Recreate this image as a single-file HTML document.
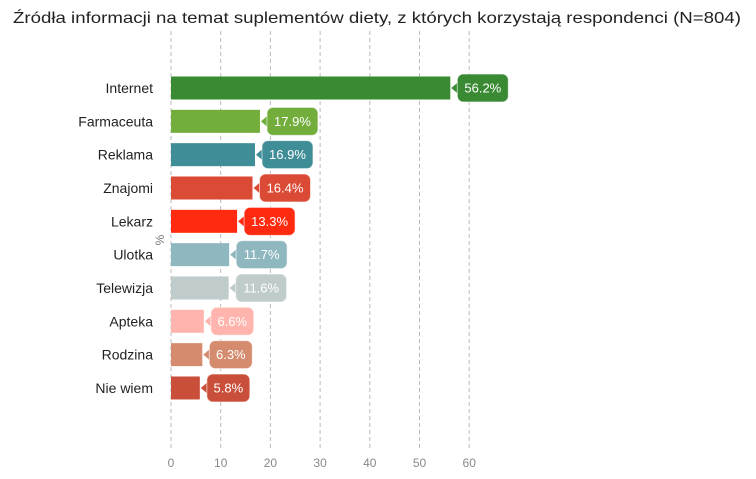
<!DOCTYPE html>
<html><head><meta charset="utf-8"><style>
html,body{margin:0;padding:0;background:#fff;width:756px;height:479px;overflow:hidden}
svg{display:block;font-family:"Liberation Sans",sans-serif}
</style></head><body>
<svg id="s" width="756" height="479" xmlns="http://www.w3.org/2000/svg">
<text x="377" y="23" text-anchor="middle" font-size="16" fill="#222" textLength="728" lengthAdjust="spacingAndGlyphs">Źródła informacji na temat suplementów diety, z których korzystają respondenci (N=804)</text>
<text transform="translate(164,240) rotate(-90)" text-anchor="middle" font-size="12" fill="#777">%</text>
</svg>
<script>
var s=document.getElementById('s'),ns='http://www.w3.org/2000/svg';
function el(t,a,txt){var e=document.createElementNS(ns,t);for(var k in a)e.setAttribute(k,a[k]);if(txt)e.textContent=txt;s.appendChild(e);return e;}
var x0=171,px=4.97;
for(var i=0;i<=6;i++){var x=x0+i*10*px;el('line',{x1:x,x2:x,y1:31,y2:448,stroke:'#bbb','stroke-dasharray':'4,3','stroke-width':1});
el('text',{x:x,y:467,'text-anchor':'middle','font-size':12,fill:'#888'},String(i*10));}
var d=[["Internet",56.2,"#3a8a33"],["Farmaceuta",17.9,"#73ae3c"],["Reklama",16.9,"#3f8d97"],["Znajomi",16.4,"#db4a35"],["Lekarz",13.3,"#ff2a10"],["Ulotka",11.7,"#8fb7bf"],["Telewizja",11.6,"#c0cbcc"],["Apteka",6.6,"#ffb5ad"],["Rodzina",6.3,"#d58b6e"],["Nie wiem",5.8,"#c94f3b"]];
d.forEach(function(r,i){var c=88+i*33.33,e=x0+r[1]*px;
el('text',{x:153,y:c+5,'text-anchor':'end','font-size':14,fill:'#222'},r[0]);
el('rect',{x:x0,y:c-11.5,width:e-x0,height:23,fill:r[2]});
var t=r[1].toFixed(1)+'%',w=t.length>4?51:43,bx=e+7;
el('path',{d:'M'+(e+1)+' '+c+' L'+(bx+1)+' '+(c-6)+' L'+(bx+1)+' '+(c+6)+'Z',fill:r[2]});
el('rect',{x:bx,y:c-14,width:w,height:28,rx:6,fill:r[2],stroke:'rgba(255,255,255,0.6)','stroke-width':1});
el('text',{x:bx+w/2,y:c+4.5,'text-anchor':'middle','font-size':13,fill:'#fff'},t);
});
</script>
</body></html>
